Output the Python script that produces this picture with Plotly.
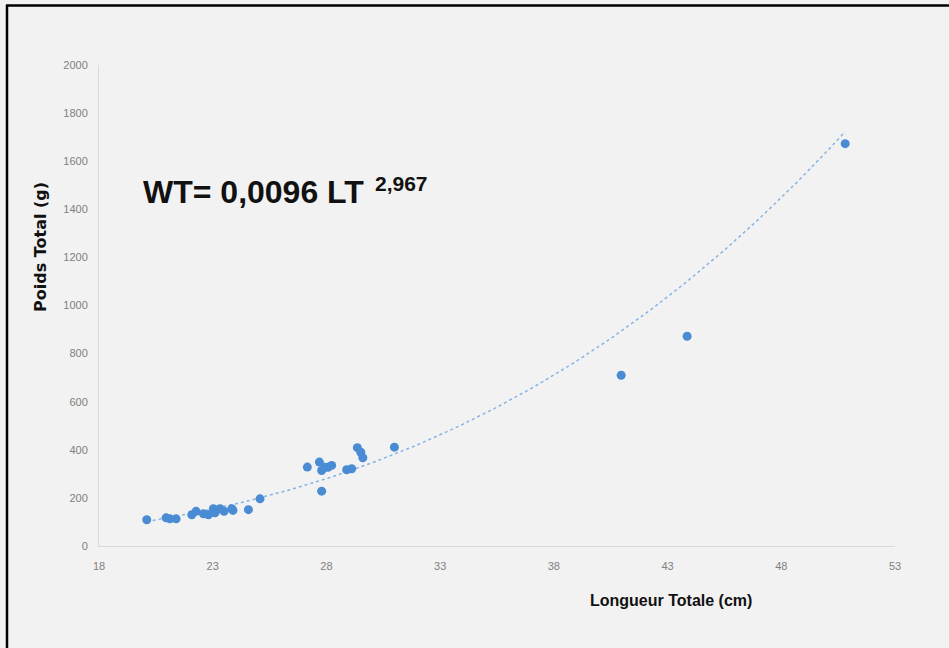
import numpy as np
import plotly.graph_objects as go

# Data: Longueur Totale (cm) vs Poids Total (g)
longueur = [20.10, 20.95, 21.12, 21.39, 22.08, 22.27, 22.59, 22.81, 23.03, 23.10,
            23.32, 23.50, 23.84, 23.89, 24.57, 25.08, 27.16, 27.69, 27.79, 27.94,
            28.07, 28.23, 27.79, 28.89, 29.11, 29.36, 29.51, 29.60, 30.99, 40.96,
            43.86, 50.81]
poids = [109, 117, 113, 113, 130, 144, 134, 130, 155, 138,
         155, 144, 155, 148, 151, 196, 328, 349, 314, 327,
         327, 335, 228, 317, 321, 409, 390, 367, 411, 710,
         872, 1673]

x_ticks = [18, 23, 28, 33, 38, 43, 48, 53]
y_ticks = [0, 200, 400, 600, 800, 1000, 1200, 1400, 1600, 1800, 2000]

equation_main = "WT= 0,0096 LT"
equation_exp = "2,967"
x_title = "Longueur Totale (cm)"
y_title = "Poids Total (g)"

# Power trendline (least squares in log-log space, as a spreadsheet does)
lx = np.log(np.array(longueur))
ly = np.log(np.array(poids))
b, loga = np.polyfit(lx, ly, 1)
xs = np.linspace(min(longueur), max(longueur), 200)
ys = np.exp(loga) * xs ** b

W, H = 949, 648
L, R, T, B = 99, 895, 65, 546
def px(xp):
    return (xp - L) / (R - L)
def py(yp):
    return (B - yp) / (B - T)

fig = go.Figure()
fig.add_trace(go.Scatter(x=xs, y=ys, mode="lines",
                         line=dict(color="#86B3E2", width=1.5, dash="dot"),
                         hoverinfo="skip", showlegend=False))
fig.add_trace(go.Scatter(x=longueur, y=poids, mode="markers",
                         marker=dict(color="#4A8CD3", size=9),
                         showlegend=False))

axis_common = dict(showgrid=False, zeroline=False, showline=True,
                   linecolor="#D9D9D9", linewidth=1, ticks="",
                   tickfont=dict(family="Liberation Sans, Arial", size=11, color="#808080"))
fig.update_xaxes(range=[18, 53], tickvals=x_ticks, ticktext=[str(v) for v in x_ticks],
                 ticklabelstandoff=10, **axis_common)
fig.update_yaxes(range=[0, 2000], tickvals=y_ticks, ticktext=[str(v) for v in y_ticks],
                 ticklabelstandoff=8, **axis_common)

annotations = [
    dict(text="<b>" + equation_main + "</b>", x=px(141), y=py(192), xanchor="left", yanchor="middle",
         font=dict(family="Liberation Sans, Arial", size=32, color="#111111")),
    dict(text="<b>" + equation_exp + "</b>", x=px(373), y=py(183), xanchor="left", yanchor="middle",
         font=dict(family="Liberation Sans, Arial", size=21, color="#111111")),
    dict(text="<b>" + x_title + "</b>", x=px(671), y=py(600), xanchor="center", yanchor="middle",
         font=dict(family="Liberation Sans, Arial", size=16, color="#111111")),
    dict(text="<b>" + y_title + "</b>", x=px(40), y=py(247), xanchor="center", yanchor="middle",
         textangle=-90,
         font=dict(family="DejaVu Sans", size=16, color="#111111")),
]
for a in annotations:
    a.update(xref="paper", yref="paper", showarrow=False)

shapes = [
    dict(type="line", xref="paper", yref="paper", x0=px(7), x1=px(7), y0=py(H + 5), y1=py(5),
         line=dict(color="black", width=2.5)),
    dict(type="line", xref="paper", yref="paper", x0=px(6), x1=px(W + 5), y0=py(5.5), y1=py(5.5),
         line=dict(color="black", width=2.5)),
]

fig.update_layout(width=W, height=H, margin=dict(l=L, r=W - R, t=T, b=H - B),
                  paper_bgcolor="#F2F2F2", plot_bgcolor="#F2F2F2",
                  annotations=annotations, shapes=shapes)

fig.write_html("out.html")
